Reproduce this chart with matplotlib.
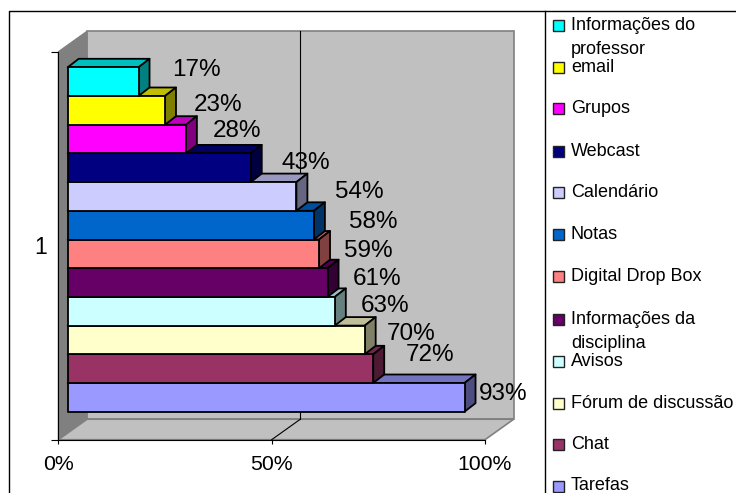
import matplotlib

matplotlib.use("Agg")
import matplotlib.pyplot as plt
from matplotlib.patches import Polygon, Rectangle

plt.rcParams["font.family"] = ["Liberation Sans", "DejaVu Sans"]

WIDTH, HEIGHT = 736, 493

# top to bottom, as in the legend
categories = [
    ["Informações do", "professor"],
    ["email"],
    ["Grupos"],
    ["Webcast"],
    ["Calendário"],
    ["Notas"],
    ["Digital Drop Box"],
    ["Informações da", "disciplina"],
    ["Avisos"],
    ["Fórum de discussão"],
    ["Chat"],
    ["Tarefas"],
]
values = [16.6, 22.8, 27.7, 42.9, 53.6, 57.7, 58.9, 60.9, 62.6, 69.6, 71.6, 93.0]
colors = [
    "#00FFFF", "#FFFF00", "#FF00FF", "#000080", "#CCCCFF", "#0066CC",
    "#FF8080", "#660066", "#CCFFFF", "#FFFFCC", "#993366", "#9999FF",
]
x_ticks = [0, 50, 100]
x_tick_labels = ["0%", "50%", "100%"]

# pixel layout of the fake 3d box
FRONT_LEFT, FRONT_RIGHT = 58.3, 485.0
FRONT_TOP, FRONT_BOTTOM = 51.7, 439.7
WALL_DX, WALL_DY = 28.7, 20.5
BAR_LEFT = 67.7
BAR_TOP, BAR_BOTTOM = 67.3, 411.7
BAR_DX, BAR_DY = 11.0, 8.5
# label centre relative to the end of the bar, right and up in pixels
LABEL_OFFSETS = [
    (57.5, 11.6), (53, 5.3), (51, 8), (55, 4.7), (63, 4.5), (59.6, 3),
    (49.5, 3), (50, 4), (50, 5), (46, 6), (57, 13.6), (39, 3.6),
]
LEGEND_ROWS = [25, 67.7, 108.7, 151, 192.7, 234.3, 276.7, 319, 361, 403.3, 444.3, 486]
LINE_STEP = 24.4
DARK = "#808080"
WALL = "#C0C0C0"


def shade(color: str, factor: float) -> tuple[float, float, float]:
    rgb = matplotlib.colors.to_rgb(color)
    return tuple(channel * factor for channel in rgb)


fig = plt.figure(figsize=(WIDTH / 100, HEIGHT / 100), dpi=100)

# overlay in pixel coordinates for the frame and legend
page = fig.add_axes([0, 0, 1, 1])
page.set_xlim(0, WIDTH)
page.set_ylim(HEIGHT, 0)
page.axis("off")
page.plot([9, 9, WIDTH], [492, 11, 11], color="black", lw=1.0)
page.plot([544.5, 544.5], [11, 492], color="black", lw=1.0)

# x axis is percent, y axis is pixels from the top of the picture
ax = fig.add_axes(
    [
        FRONT_LEFT / WIDTH,
        1 - FRONT_BOTTOM / HEIGHT,
        (FRONT_RIGHT - FRONT_LEFT) / WIDTH,
        (FRONT_BOTTOM - FRONT_TOP) / HEIGHT,
    ]
)
ax.patch.set_visible(False)
ax.set_xlim(0, 100)
ax.set_ylim(FRONT_BOTTOM, FRONT_TOP)
scale = 100 / (FRONT_RIGHT - FRONT_LEFT)
for side in ("top", "right"):
    ax.spines[side].set_visible(False)
for side in ("left", "bottom"):
    ax.spines[side].set_linewidth(0.8)
ax.set_xticks(x_ticks, x_tick_labels, fontsize=15.3)
ax.set_yticks([FRONT_BOTTOM, FRONT_TOP], ["", ""])
ax.text(-2.6, 248, "1", fontsize=16.5, ha="right", va="center", clip_on=False)
ax.tick_params(axis="x", length=3, width=0.8, pad=8)
ax.tick_params(axis="y", length=5, width=0.8)

wall_dx = WALL_DX * scale
back_bottom = FRONT_BOTTOM - WALL_DY
back_top = FRONT_TOP - WALL_DY
ax.add_patch(Polygon(
    [(wall_dx, back_top), (100 + wall_dx, back_top),
     (100 + wall_dx, back_bottom), (wall_dx, back_bottom)],
    facecolor=WALL, edgecolor=DARK, lw=1.2, clip_on=False, zorder=1,
))
ax.add_patch(Polygon(
    [(0, FRONT_TOP), (wall_dx, back_top), (wall_dx, back_bottom), (0, FRONT_BOTTOM)],
    facecolor=DARK, edgecolor=DARK, lw=0.8, clip_on=False, zorder=1,
))
ax.add_patch(Polygon(
    [(0, FRONT_BOTTOM), (wall_dx, back_bottom), (100 + wall_dx, back_bottom),
     (100, FRONT_BOTTOM)],
    facecolor=WALL, edgecolor=DARK, lw=1.2, clip_on=False, zorder=1,
))
ax.plot([50, 50 + wall_dx], [FRONT_BOTTOM, back_bottom], color="black", lw=0.8,
        clip_on=False, zorder=2)
ax.plot([50 + wall_dx] * 2, [back_bottom, back_top], color="black", lw=0.8,
        clip_on=False, zorder=2)

bar_start = (BAR_LEFT - FRONT_LEFT) * scale
bar_dx = BAR_DX * scale
bar_height = (BAR_BOTTOM - BAR_TOP) / len(values)
edge = {"edgecolor": "black", "lw": 1.3, "joinstyle": "round", "clip_on": False, "zorder": 3}

# upper bars overlap the top face of the one below, so draw from the bottom up
for index in reversed(range(len(values))):
    top = BAR_TOP + index * bar_height
    bottom = top + bar_height
    end = bar_start + values[index]
    color = colors[index]
    ax.add_patch(Polygon(
        [(bar_start, top), (bar_start + bar_dx, top - BAR_DY),
         (end + bar_dx, top - BAR_DY), (end, top)],
        facecolor=shade(color, 0.75), **edge,
    ))
    ax.add_patch(Polygon(
        [(end, top), (end + bar_dx, top - BAR_DY),
         (end + bar_dx, bottom - BAR_DY), (end, bottom)],
        facecolor=shade(color, 0.5), **edge,
    ))
    ax.add_patch(Rectangle((bar_start, top), values[index], bar_height, facecolor=color, **edge))

for index, value in enumerate(values):
    ax.annotate(
        f"{value:.0f}%",
        xy=(bar_start + value, BAR_TOP + (index + 0.5) * bar_height),
        xytext=(LABEL_OFFSETS[index][0] * 0.72, LABEL_OFFSETS[index][1] * 0.72),
        textcoords="offset points",
        ha="center",
        va="center",
        fontsize=17.5,
        zorder=5,
        annotation_clip=False,
    )

for row, label, color in zip(LEGEND_ROWS, categories, colors, strict=True):
    page.add_patch(Rectangle((553, row - 5.5), 11, 11, facecolor=color, edgecolor="#222222", lw=1.0))
    for line, part in enumerate(label):
        page.text(571, row + line * LINE_STEP, part, fontsize=13, ha="left", va="center")

fig.savefig("out.png", dpi=100)
plt.close(fig)
